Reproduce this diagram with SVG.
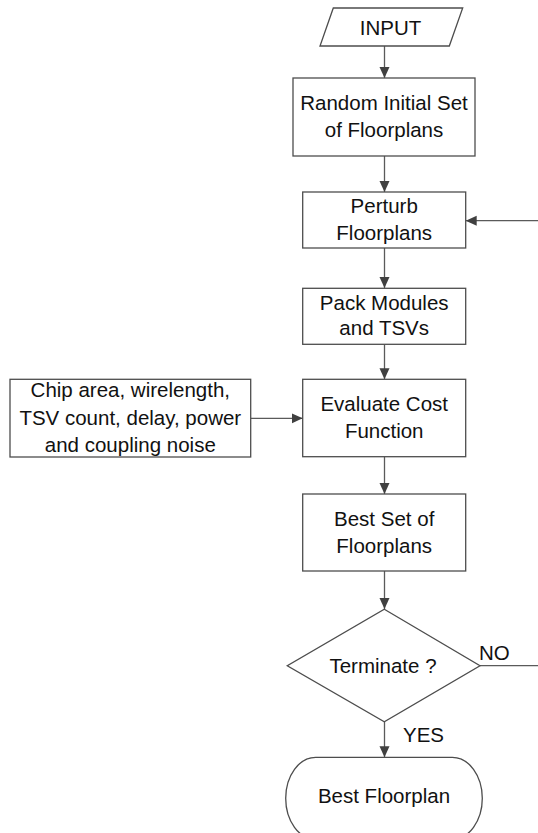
<svg xmlns="http://www.w3.org/2000/svg" width="538" height="833" viewBox="0 0 538 833">
  <style>
    .shape { fill: #ffffff; stroke: #4d4d4d; stroke-width: 1.3; }
    .label { font-family: "Liberation Sans", Arial, sans-serif; font-size: 20.5px; fill: #111111; text-anchor: middle; }
    .side { font-family: "Liberation Sans", Arial, sans-serif; font-size: 20.5px; fill: #111111; text-anchor: start; }
    .wire { fill: none; stroke: #5a5a5a; stroke-width: 1.3; }
  </style>
  <defs>
    <marker id="arrow" markerUnits="userSpaceOnUse" markerWidth="12" markerHeight="12" viewBox="0 0 12 12" refX="11" refY="6" orient="auto">
      <path d="M0,1 L11,6 L0,11 Z" fill="#404040"/>
    </marker>
  </defs>

  <rect width="538" height="833" fill="#ffffff"/>

  <!-- connectors -->
  <g id="connectors">
    <line class="wire" x1="384.5" y1="46" x2="384.5" y2="78" marker-end="url(#arrow)"/>
    <line class="wire" x1="384.5" y1="156" x2="384.5" y2="192" marker-end="url(#arrow)"/>
    <line class="wire" x1="384.5" y1="248" x2="384.5" y2="288" marker-end="url(#arrow)"/>
    <line class="wire" x1="384.5" y1="344.5" x2="384.5" y2="379.3" marker-end="url(#arrow)"/>
    <line class="wire" x1="250.7" y1="418.3" x2="302.7" y2="418.3" marker-end="url(#arrow)"/>
    <line class="wire" x1="384.5" y1="457" x2="384.5" y2="494" marker-end="url(#arrow)"/>
    <line class="wire" x1="384.5" y1="571" x2="384.5" y2="609" marker-end="url(#arrow)"/>
    <line class="wire" x1="384.5" y1="722" x2="384.5" y2="757.3" marker-end="url(#arrow)"/>
    <!-- NO branch loops back to the perturb step -->
    <polyline class="wire" points="480,665.7 548,665.7 548,220.7 465.7,220.7" marker-end="url(#arrow)"/>
    <text class="side" x="479" y="660">NO</text>
    <text class="side" x="403" y="742">YES</text>
  </g>

  <g id="input">
    <polygon class="shape" points="333.3,8 462.7,8 449.3,46 320,46"/>
    <text class="label" x="390.5" y="35">INPUT</text>
  </g>

  <g id="random-initial">
    <rect class="shape" x="293" y="78" width="182" height="78"/>
    <text class="label" x="384" y="110">Random Initial Set</text>
    <text class="label" x="384" y="137">of Floorplans</text>
  </g>

  <g id="perturb">
    <rect class="shape" x="302.7" y="192" width="163" height="56"/>
    <text class="label" x="384.2" y="213">Perturb</text>
    <text class="label" x="384.2" y="240">Floorplans</text>
  </g>

  <g id="pack">
    <rect class="shape" x="302.7" y="288.3" width="163" height="56"/>
    <text class="label" x="384.2" y="310">Pack Modules</text>
    <text class="label" x="384.2" y="335">and TSVs</text>
  </g>

  <g id="cost-terms">
    <rect class="shape" x="10" y="379.3" width="240.7" height="77.7"/>
    <text class="label" x="130.3" y="396.7">Chip area, wirelength,</text>
    <text class="label" x="130.3" y="425">TSV count, delay, power</text>
    <text class="label" x="130.3" y="451.7">and coupling noise</text>
  </g>

  <g id="evaluate">
    <rect class="shape" x="302.7" y="379.3" width="163" height="77.4"/>
    <text class="label" x="384.2" y="410.7">Evaluate Cost</text>
    <text class="label" x="384.2" y="438.3">Function</text>
  </g>

  <g id="best-set">
    <rect class="shape" x="302.7" y="494" width="163" height="77"/>
    <text class="label" x="384.2" y="525.7">Best Set of</text>
    <text class="label" x="384.2" y="553">Floorplans</text>
  </g>

  <g id="terminate">
    <polygon class="shape" points="384.3,609.3 480,665.7 384.3,721.7 287.3,665.7"/>
    <text class="label" x="383" y="672.7">Terminate ?</text>
  </g>

  <g id="best-floorplan">
    <rect class="shape" x="285.7" y="757.3" width="196.6" height="82" rx="30" ry="41"/>
    <text class="label" x="384" y="803">Best Floorplan</text>
  </g>
</svg>
